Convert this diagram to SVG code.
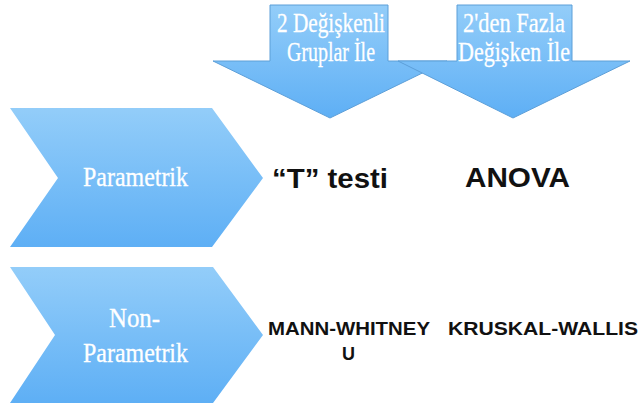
<svg xmlns="http://www.w3.org/2000/svg" width="639" height="408" viewBox="0 0 639 408">
<defs>
<linearGradient id="g" x1="0" y1="0" x2="0" y2="1">
<stop offset="0" stop-color="#93cdf9"/>
<stop offset="1" stop-color="#5eaff5"/>
</linearGradient>
<style>
.shape{fill:url(#g);}
.arrow{fill:url(#g);stroke:#5d9fd8;stroke-width:1;}
.wt{font-family:"Liberation Serif","Times New Roman",serif;fill:#ffffff;stroke:#ffffff;stroke-width:0.3;}
.bt{font-family:"Liberation Sans",Arial,sans-serif;font-weight:bold;fill:#111111;}
</style>
</defs>
<rect width="639" height="408" fill="#ffffff"/>
<g id="arrow-2-degiskenli">
<polygon class="arrow" points="270,5 388,5 388,61 447,61 330,118 213,61 270,61"/>
<text class="wt" x="277" y="32" font-size="27" textLength="108" lengthAdjust="spacingAndGlyphs">2 Değişkenli</text>
<text class="wt" x="287" y="61" font-size="27" textLength="88" lengthAdjust="spacingAndGlyphs">Gruplar İle</text>
</g>
<g id="arrow-2den-fazla">
<polygon class="arrow" points="457,5 572,5 572,61 630,61 513,118 398,61 457,61"/>
<text class="wt" x="463" y="32" font-size="27" textLength="102" lengthAdjust="spacingAndGlyphs">2'den Fazla</text>
<text class="wt" x="458" y="61" font-size="27" textLength="112" lengthAdjust="spacingAndGlyphs">Değişken İle</text>
</g>
<g id="chevron-parametrik">
<polygon class="shape" points="10,108 212,108 263,178 212,247 10,247 58,178"/>
<text class="wt" x="83" y="186" font-size="27" textLength="105" lengthAdjust="spacingAndGlyphs">Parametrik</text>
</g>
<g id="chevron-nonparametrik">
<polygon class="shape" points="10,267 213,267 263,335 213,403 10,403 55,335"/>
<text class="wt" x="109" y="327" font-size="27" textLength="51" lengthAdjust="spacingAndGlyphs">Non-</text>
<text class="wt" x="83" y="362" font-size="27" textLength="105" lengthAdjust="spacingAndGlyphs">Parametrik</text>
</g>
<g id="t-testi">
<text class="bt" x="272" y="188" font-size="27" textLength="116" lengthAdjust="spacingAndGlyphs">“T” testi</text>
</g>
<g id="anova">
<text class="bt" x="465" y="187" font-size="27" textLength="105" lengthAdjust="spacingAndGlyphs">ANOVA</text>
</g>
<g id="mann-whitney">
<text class="bt" x="268" y="335" font-size="19" textLength="162" lengthAdjust="spacingAndGlyphs">MANN-WHITNEY</text>
<text class="bt" x="342" y="360" font-size="19" textLength="13" lengthAdjust="spacingAndGlyphs">U</text>
</g>
<g id="kruskal-wallis">
<text class="bt" x="448" y="335" font-size="19" textLength="190" lengthAdjust="spacingAndGlyphs">KRUSKAL-WALLIS</text>
</g>
<g id="connectors"></g>
</svg>
